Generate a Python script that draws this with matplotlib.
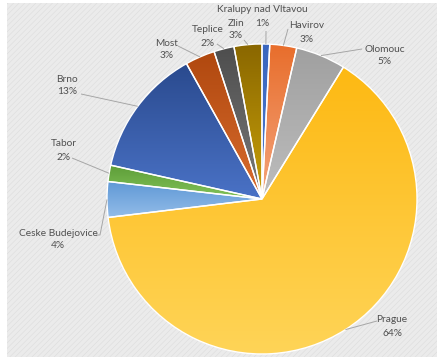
import numpy as np
import matplotlib
matplotlib.use("Agg")
import matplotlib.pyplot as plt
from matplotlib.patches import Wedge, Rectangle
from matplotlib.colors import to_rgb

# ---- data ----
cities = ["Kralupy nad Vltavou", "Havirov", "Olomouc", "Prague", "Ceske Budejovice",
          "Tabor", "Brno", "Most", "Teplice", "Zlin"]
shares = [0.8, 2.8, 5.2, 64.3, 3.7, 1.7, 13.4, 3.1, 2.1, 2.9]
pct_labels = ["1%", "3%", "5%", "64%", "4%", "2%", "13%", "3%", "2%", "3%"]

# ---- style ----
top_colors = ["#3A66BE", "#E86E2C", "#A0A0A0", "#FDB913", "#5F98D6",
              "#5E9E38", "#2A4A8E", "#B0480F", "#4E4E4E", "#8A6700"]
bottom_colors = ["#4C7BCF", "#F4A47C", "#BDBDBD", "#FFD457", "#92BCE8",
                 "#82C25A", "#4A72C6", "#D86C2E", "#7A7A7A", "#C9A10A"]

W, H = 437, 357
CX, CY, R = 262, 199, 155  # pie center / radius in pixels

def px(x, y):
    return ((x - CX) / R, (CY - y) / R)

# label centres: (x, y of first line) in pixels; second line 13 px lower
label_pos = [(262, 10), (307, 26), (385, 49), (392, 320), (58, 233),
             (64, 144), (67, 79), (167, 43), (208, 30), (236, 23)]
# leader-line points (pixels) after the point on the pie edge
leader_pts = [[(266, 31)], [(288, 29)], [(362, 49)], [(377, 321)],
              [(100, 235), (96, 235)], [(72, 158)], [(81, 94)],
              [(178, 46)], [(217, 44)], [(244, 40)]]

fig = plt.figure(figsize=(W / 100, H / 100), dpi=100)
fig.patch.set_facecolor("white")
plt.rcParams["hatch.linewidth"] = 0.4
plt.rcParams["hatch.color"] = "#DCDCDC"

ax = fig.add_axes([0, 0, 1, 1])
ax.set_xlim(-CX / R, (W - CX) / R)
ax.set_ylim(-(H - CY) / R, CY / R)
ax.set_aspect("equal")
ax.axis("off")

bg = Rectangle((7 / W, 0), 1 - 7 / W, 354 / H, transform=fig.transFigure,
               facecolor="#EBEBEB", edgecolor="#DCDCDC", hatch="//////",
               linewidth=0, zorder=0, clip_on=False)
ax.add_patch(bg)

wedges, _ = ax.pie(shares, startangle=90, counterclock=False, radius=1,
                   colors=top_colors,
                   wedgeprops=dict(linewidth=0, edgecolor="white", zorder=1))

for w, ct, cb in zip(wedges, top_colors, bottom_colors):
    bb = w.get_path().get_extents()
    n = 64
    t = np.linspace(0, 1, n)[:, None]
    img = (1 - t) * np.array(to_rgb(ct)) + t * np.array(to_rgb(cb))
    img = img[:, None, :]
    im = ax.imshow(img, extent=[bb.x0, bb.x1, bb.y0, bb.y1], origin="upper",
                   aspect="auto", interpolation="bilinear", zorder=2)
    im.set_clip_path(w)
    ew = Wedge(w.center, w.r, w.theta1, w.theta2, facecolor="none",
               edgecolor="white", linewidth=1.0, zorder=3)
    ax.add_patch(ew)

ax.set_xlim(-CX / R, (W - CX) / R)
ax.set_ylim(-(H - CY) / R, CY / R)

txt_kw = dict(ha="center", va="center", fontsize=7.3, family="Lato",
              color="#505050", zorder=5)
for w, city, pl, lp, pts in zip(wedges, cities, pct_labels, label_pos, leader_pts):
    mid = np.deg2rad((w.theta1 + w.theta2) / 2)
    xs = [np.cos(mid)] + [px(*p)[0] for p in pts]
    ys = [np.sin(mid)] + [px(*p)[1] for p in pts]
    ax.plot(xs, ys, color="#A6A6A6", linewidth=0.7, zorder=4,
            solid_capstyle="butt")
    x1, y1 = px(lp[0], lp[1])
    x2, y2 = px(lp[0], lp[1] + 13)
    ax.text(x1, y1, city, **txt_kw)
    ax.text(x2, y2, pl, **txt_kw)

fig.savefig("out.png", dpi=100)
